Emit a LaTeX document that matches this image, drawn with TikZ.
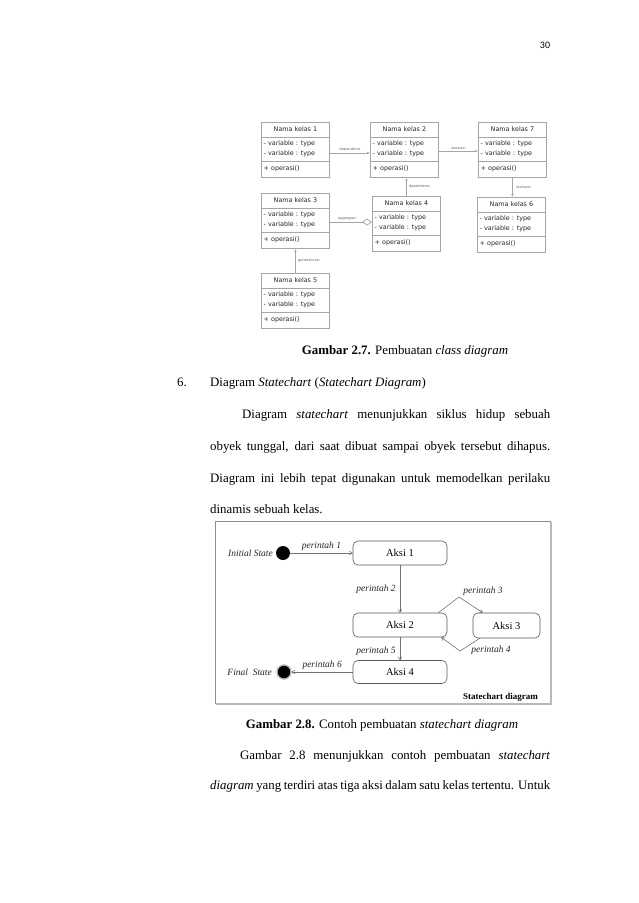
\documentclass[tikz,border=0pt]{standalone}
\usepackage{fontspec}
\setmainfont{Liberation Serif}
\newfontfamily\umlfont{DejaVu Sans}
\newfontfamily\pgnumfont{Carlito}
\usetikzlibrary{arrows.meta}
\newcommand{\bodysize}{\fontsize{12.86}{15}\selectfont}
\newcommand{\umlclass}[4]{%
  \node[classbox, anchor=north west] (#1) at (#2,#3) {};
  \draw[classline] ([yshift=-15pt]#1.north west) -- ([yshift=-15pt]#1.north east);
  \draw[classline] ([yshift=16pt]#1.south west) -- ([yshift=16pt]#1.south east);
  \node[umltext] (#1-t) at ([yshift=-7.5pt]#1.north) {#4};
  \node[umltext, anchor=west] (#1-a) at ([xshift=2.5pt,yshift=-21.5pt]#1.north west) {- variable : type};
  \node[umltext, anchor=west] (#1-b) at ([xshift=2.5pt,yshift=-31.5pt]#1.north west) {- variable : type};
  \node[umltext, anchor=west] (#1-c) at ([xshift=2.5pt,yshift=9pt]#1.south west) {+ operasi()};
}
\begin{document}
\begin{tikzpicture}[x=1pt,y=-1pt,
  classbox/.style={draw=gray!70, line width=0.9pt, minimum width=68pt, minimum height=55pt, inner sep=0pt},
  classline/.style={draw=gray!70, line width=0.9pt},
  umltext/.style={font=\umlfont\fontsize{6.4}{7}\selectfont, text=black!85, inner sep=0pt},
  umllbl/.style={font=\umlfont\fontsize{3.6}{4}\selectfont, text=black!60, inner sep=1.2pt},
  umlarrow/.style={draw=gray!70, line width=0.7pt, -{Latex[length=3pt,width=2.6pt]}},
  umlagg/.style={draw=gray!70, line width=0.7pt, -{Diamond[open, length=10pt, width=7pt]}},
  bodytext/.style={font=\bodysize, inner sep=0pt, anchor=base west},
  statebox/.style={draw=black!65, line width=0.6pt, rounded corners=5pt, font=\fontsize{10.5}{12}\selectfont},
  stlbl/.style={font=\itshape\fontsize{9.5}{11}\selectfont, inner sep=0pt, text=black!85},
  starrow/.style={draw=black!55, line width=0.6pt, -{To[length=3.5pt,width=4pt]}},
]
\useasboundingbox (0,0) rectangle (638,903);
\fill[white] (0,0) rectangle (638,903);

% page number
\node[font=\pgnumfont\fontsize{10}{12}\selectfont, inner sep=0pt] (pgnum) at (545,45) {30};

% ---------- class diagram ----------
\umlclass{k1}{261}{122}{Nama kelas 1}
\umlclass{k2}{370}{122}{Nama kelas 2}
\umlclass{k7}{478}{122}{Nama kelas 7}
\umlclass{k3}{261}{193}{Nama kelas 3}
\umlclass{k4}{372}{196}{Nama kelas 4}
\umlclass{k6}{477}{197}{Nama kelas 6}
\umlclass{k5}{261}{273}{Nama kelas 5}

\draw[umlarrow] ([yshift=-31pt]k1.north east) -- node[umllbl, above] (l1) {dependensi} ([yshift=-31pt]k2.north west);
\draw[umlarrow] ([yshift=-29pt]k2.north east) -- node[umllbl, above] (l2) {asosiasi} ([yshift=-29pt]k7.north west);
\draw[umlarrow] (k4.north) -- node[umllbl, right, xshift=1pt] (l3) {dependensi} (k4.north |- k2.south);
\draw[umlarrow] (k7.south) -- node[umllbl, right, xshift=2pt] (l4) {realisasi} (k7.south |- k6.north);
\draw[umlagg] ([yshift=-29pt]k3.north east) -- node[umllbl, above, xshift=-4pt] (l5) {aggregasi} ([yshift=-26pt]k4.north west);
\draw[umlarrow] (k5.north) -- node[umllbl, right, xshift=1pt] (l6) {generalisasi} (k5.north |- k3.south);

% ---------- text ----------
\node[font=\bodysize, inner sep=0pt] (cap1) at (405,351) {\textbf{Gambar 2.7.} Pembuatan \textit{class diagram}};
\node[bodytext] (num6) at (177,386) {6.};
\node[bodytext] (h6) at (210,386) {Diagram \textit{Statechart} (\textit{Statechart Diagram})};
\node[bodytext] (pa) at (242,418) {\makebox[308pt][s]{Diagram \textit{statechart} menunjukkan siklus hidup sebuah}};
\node[bodytext] (pb) at (210,450) {\makebox[340pt][s]{obyek tunggal, dari saat dibuat sampai obyek tersebut dihapus.}};
\node[bodytext] (pc) at (210,482) {\makebox[340pt][s]{Diagram ini lebih tepat digunakan untuk memodelkan perilaku}};
\node[bodytext] (pd) at (210,513) {dinamis sebuah kelas.};

\node[font=\bodysize, inner sep=0pt] (cap2) at (382,725) {\textbf{Gambar 2.8.} Contoh pembuatan \textit{statechart diagram}};
\node[bodytext] (pe) at (240,759) {\makebox[310pt][s]{Gambar 2.8 menunjukkan contoh pembuatan \textit{statechart}}};
\node[bodytext] (pf) at (210,789) {\makebox[340pt][s]{\textit{diagram} yang terdiri atas tiga aksi dalam satu kelas tertentu. Untuk}};

% ---------- statechart ----------
\draw[draw=black!45, line width=0.6pt] (215,521) rectangle (550,703);
\draw[draw=gray!55, line width=2.2pt] (216,704) -- (551,704) -- (551,522);

\node[circle, fill=black, minimum size=14pt, inner sep=0pt] (init) at (283,553) {};
\node[stlbl, anchor=east] (initlbl) at (273,553) {Initial State};
\node[statebox, minimum width=94pt, minimum height=24pt] (a1) at (400,553) {Aksi 1};
\node[statebox, minimum width=94pt, minimum height=24pt] (a2) at (400,625) {Aksi 2};
\node[statebox, minimum width=67pt, minimum height=25pt] (a3) at (506.5,625.5) {Aksi 3};
\node[statebox, minimum width=94pt, minimum height=23pt] (a4) at (400,672) {Aksi 4};
\node[circle, fill=black, draw=gray!60, line width=1.3pt, minimum size=14pt, inner sep=0pt] (fin) at (284,672) {};
\node[stlbl, anchor=east] (finlbl) at (272,672) {Final\ \ State};

\draw[starrow] (init) -- node[stlbl, above=2.5pt] (e1) {perintah 1} (a1.west);
\draw[starrow] (a1.south) -- node[stlbl, left=4pt] (e2) {perintah 2} (a2.north);
\coordinate (p3top) at (459,597);
\draw[starrow] ([xshift=-9pt]a2.north east) -- (p3top) -- ([xshift=10pt]a3.north west);
\node[stlbl] (e3) at (483,591) {perintah 3};
\coordinate (p4bot) at (460,651);
\draw[starrow] ([xshift=7pt]a3.south west) -- (p4bot) -- ([xshift=-6pt]a2.south east);
\node[stlbl] (e4) at (491,650) {perintah 4};
\draw[starrow] (a2.south) -- node[stlbl, left=4pt, yshift=-2pt] (e5) {perintah 5} (a4.north);
\draw[starrow] (a4.west) -- node[stlbl, above=2.5pt] (e6) {perintah 6} (fin);
\node[font=\bfseries\fontsize{9}{11}\selectfont, anchor=east, inner sep=0pt] (stcap) at (538,697) {Statechart diagram};
\end{tikzpicture}
\end{document}
